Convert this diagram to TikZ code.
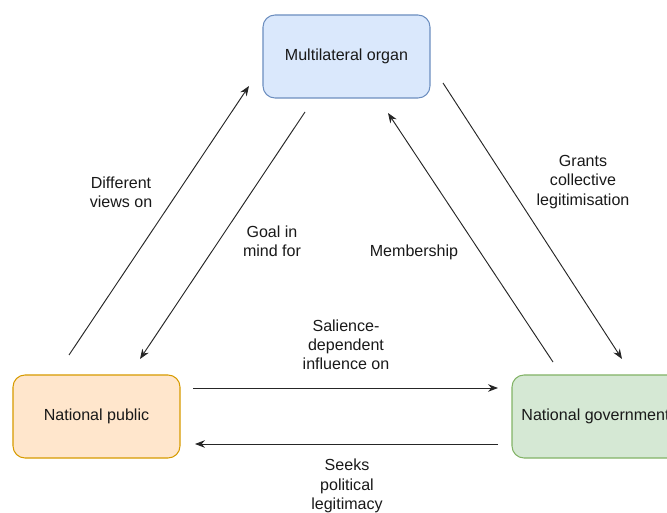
\documentclass[tikz,border=0pt]{standalone}
\usepackage{fontspec}
\setmainfont{Liberation Sans}
\usetikzlibrary{arrows.meta}
\definecolor{orgfill}{HTML}{DAE8FC}
\definecolor{orgline}{HTML}{6C8EBF}
\definecolor{pubfill}{HTML}{FFE6CC}
\definecolor{publine}{HTML}{D79B00}
\definecolor{govfill}{HTML}{D5E8D4}
\definecolor{govline}{HTML}{82B366}

\begin{document}
\begin{tikzpicture}[
    x=0.03cm, y=-0.03cm, >={Stealth[length=8.5pt, width=6.5pt]},
    font=\fontsize{13.7}{16.4}\selectfont,
    lab/.style={align=center, text=black!90, inner sep=1pt},
    box/.style={rounded corners=0.36cm, line width=0.9pt, align=center,
                minimum width=5.01cm, minimum height=2.49cm, inner sep=0pt,
                text=black!90},
    link/.style={->, line width=0.8pt, black!85},
]
\useasboundingbox (0,0) rectangle (667,513);
\clip (0,0) rectangle (667,513);

\node[box, fill=orgfill, draw=orgline] (org) at (346.5,56.5) {Multilateral organ};
\node[box, fill=pubfill, draw=publine] (pub) at (96.5,416.5) {National public};
\node[box, fill=govfill, draw=govline] (gov) at (595.5,416.5) {National government};

% free ends of the connectors
\coordinate (dv0) at (69,355);  \coordinate (dv1) at (249,86);
\coordinate (gm0) at (305,112); \coordinate (gm1) at (140,359);
\coordinate (mb0) at (553,362); \coordinate (mb1) at (388,113);
\coordinate (gc0) at (443,83);  \coordinate (gc1) at (622,359);
\coordinate (si0) at (193,388); \coordinate (si1) at (498,388);
\coordinate (sp0) at (498,444); \coordinate (sp1) at (195,444);

\draw[link] (dv0) -- (dv1);
\draw[link] (gm0) -- (gm1);
\draw[link] (mb0) -- (mb1);
\draw[link] (gc0) -- (gc1);
\draw[link] (si0) -- (si1);
\draw[link] (sp0) -- (sp1);

\node[lab] (ldv) at (121,192) {Different\\views on};
\node[lab] (lgm) at (272,241) {Goal in\\mind for};
\node[lab] (lmb) at (414,252) {Membership};
\node[lab] (lgc) at (583,182) {Grants\\collective\\legitimisation};
\node[lab] (lsi) at (346,345) {Salience-\\dependent\\influence on};
\node[lab] (lsp) at (347,486) {Seeks\\political\\legitimacy};

\end{tikzpicture}
\end{document}
